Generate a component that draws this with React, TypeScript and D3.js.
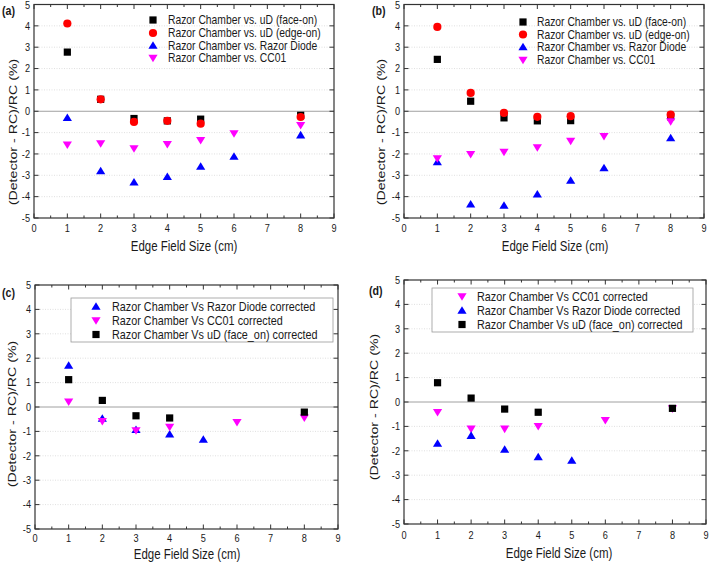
import React from "react";
import * as d3 from "d3";

// ---------- data ----------
const xTicks = [0, 1, 2, 3, 4, 5, 6, 7, 8, 9];
const yTicks = [-5, -4, -3, -2, -1, 0, 1, 2, 3, 4, 5];

// Panel (a)
const aX = [1, 2, 3, 4, 5, 8];
const aFaceOn = [2.77, 0.56, -0.34, -0.45, -0.37, -0.19];
const aEdgeOn = [4.11, 0.56, -0.5, -0.45, -0.58, -0.27];
const aDiodeX = [1, 2, 3, 4, 5, 6, 8];
const aDiode = [-0.31, -2.8, -3.33, -3.07, -2.59, -2.12, -1.12];
const aCC01X = [1, 2, 3, 4, 5, 6, 8];
const aCC01 = [-1.57, -1.51, -1.74, -1.54, -1.36, -1.04, -0.65];

// Panel (b)
const bX = [1, 2, 3, 4, 5, 8];
const bFaceOn = [2.43, 0.47, -0.31, -0.45, -0.44, -0.26];
const bEdgeOn = [3.95, 0.86, -0.08, -0.26, -0.23, -0.16];
const bDiodeX = [1, 2, 3, 4, 5, 6, 8];
const bDiode = [-2.38, -4.36, -4.42, -3.89, -3.25, -2.66, -1.25];
const bCC01X = [1, 2, 3, 4, 5, 6, 8];
const bCC01 = [-2.21, -2.01, -1.91, -1.7, -1.39, -1.17, -0.48];

// Panel (c)
const cDiodeX = [1, 2, 3, 4, 5];
const cDiode = [1.7, -0.47, -0.93, -1.12, -1.33];
const cCC01X = [1, 2, 3, 4, 6, 8];
const cCC01 = [0.22, -0.58, -0.96, -0.82, -0.62, -0.44];
const cFaceX = [1, 2, 3, 4, 8];
const cFace = [1.12, 0.27, -0.36, -0.45, -0.21];

// Panel (d)
const dCC01X = [1, 2, 3, 4, 6, 8];
const dCC01 = [-0.42, -1.1, -1.1, -0.99, -0.75, -0.27];
const dDiodeX = [1, 2, 3, 4, 5];
const dDiode = [-1.7, -1.38, -1.95, -2.26, -2.4];
const dFaceX = [1, 2, 3, 4, 8];
const dFace = [0.79, 0.16, -0.29, -0.42, -0.26];

const FONT = "'Liberation Sans', Arial, sans-serif";
const SX = 0.82; // horizontal squeeze of the text glyphs in the reference

type Shape = "square" | "circle" | "up" | "down";
interface Series { name: string; xs: number[]; ys: number[]; shape: Shape; color: string; }

const T = ({ x, y, fs, anchor = "start", rot = false, bold = false, children }:
  { x: number; y: number; fs: number; anchor?: string; rot?: boolean; bold?: boolean; children: React.ReactNode }) => (
  <g transform={`translate(${x},${y}) scale(${SX},1)${rot ? " rotate(-90)" : ""}`}>
    <text fontSize={fs} textAnchor={anchor as any} dominantBaseline="central" fontWeight={bold ? "bold" : "normal"} fill="#1a1a1a">{children}</text>
  </g>
);

const Marker = ({ shape, color, cx, cy }: { shape: Shape; color: string; cx: number; cy: number }) => {
  if (shape === "square") return <rect x={cx - 3.6} y={cy - 3.6} width={7.2} height={7.2} fill={color} />;
  if (shape === "circle") return <circle cx={cx} cy={cy} r={4.1} fill={color} />;
  const h = 4.3, w = 4.6;
  if (shape === "up") return <path d={`M${cx},${cy - h}L${cx + w},${cy + h * 0.75}L${cx - w},${cy + h * 0.75}Z`} fill={color} />;
  return <path d={`M${cx},${cy + h}L${cx + w},${cy - h * 0.75}L${cx - w},${cy - h * 0.75}Z`} fill={color} />;
};

interface PanelProps {
  label: string; labelX: number; labelY: number;
  x0: number; x1: number; yTop: number; yBot: number;
  series: Series[];
  legend: { box?: [number, number, number, number]; mx: number; tx: number; rows: number[]; fs: number };
  yTitle: [number, number]; xTitle: [number, number]; xTickY: number;
}

const Panel = (p: PanelProps) => {
  const x = d3.scaleLinear().domain([0, 9]).range([p.x0, p.x1]);
  const y = d3.scaleLinear().domain([-5, 5]).range([p.yBot, p.yTop]);
  const minorX = d3.range(0.5, 9, 1);
  const axisColor = "#333";
  return (
    <g fontFamily={FONT}>
      {/* grid */}
      {yTicks.filter(t => t !== 0 && t !== 5 && t !== -5).map(t => (
        <line key={"g" + t} x1={p.x0} x2={p.x1} y1={y(t)} y2={y(t)} stroke="#d8d8d8" strokeWidth={0.8} strokeDasharray="1,1.5" />
      ))}
      <line x1={p.x0} x2={p.x1} y1={y(0)} y2={y(0)} stroke="#a0a0a0" strokeWidth={1} />
      {/* frame */}
      <rect x={p.x0} y={p.yTop} width={p.x1 - p.x0} height={p.yBot - p.yTop} fill="none" stroke={axisColor} strokeWidth={1.2} />
      {/* x ticks */}
      {xTicks.map(t => (
        <g key={"xt" + t}>
          <line x1={x(t)} x2={x(t)} y1={p.yBot} y2={p.yBot - 4.5} stroke={axisColor} />
          <line x1={x(t)} x2={x(t)} y1={p.yTop} y2={p.yTop + 4.5} stroke={axisColor} />
          <T x={x(t)} y={p.xTickY} fs={11.2} anchor="middle">{t}</T>
        </g>
      ))}
      {minorX.map(t => (
        <g key={"xm" + t}>
          <line x1={x(t)} x2={x(t)} y1={p.yBot} y2={p.yBot - 2.5} stroke={axisColor} />
          <line x1={x(t)} x2={x(t)} y1={p.yTop} y2={p.yTop + 2.5} stroke={axisColor} />
        </g>
      ))}
      {/* y ticks */}
      {yTicks.map(t => (
        <g key={"yt" + t}>
          <line x1={p.x0} x2={p.x0 + 4.5} y1={y(t)} y2={y(t)} stroke={axisColor} />
          <line x1={p.x1} x2={p.x1 - 4.5} y1={y(t)} y2={y(t)} stroke={axisColor} />
          <T x={p.x0 - 4} y={Math.max(y(t), 5.5)} fs={11.2} anchor="end">{t}</T>
        </g>
      ))}
      {/* titles */}
      <T x={p.xTitle[0]} y={p.xTitle[1]} fs={14} anchor="middle">Edge Field Size (cm)</T>
      <T x={p.yTitle[0]} y={p.yTitle[1]} fs={14.2} anchor="middle" rot>(Detector - RC)/RC (%)</T>
      <T x={p.labelX} y={p.labelY} fs={13} bold>{p.label}</T>
      {/* points */}
      {p.series.map(s => (
        <g key={s.name}>
          {s.xs.map((xv, i) => <Marker key={i} shape={s.shape} color={s.color} cx={x(xv)} cy={y(s.ys[i])} />)}
        </g>
      ))}
      {/* legend */}
      {p.legend.box && (
        <rect x={p.legend.box[0]} y={p.legend.box[1]} width={p.legend.box[2]} height={p.legend.box[3]} fill="white" stroke="#999" strokeWidth={0.8} />
      )}
      {p.series.map((s, i) => (
        <g key={"l" + s.name}>
          <Marker shape={s.shape} color={s.color} cx={p.legend.mx} cy={p.legend.rows[i]} />
          <T x={p.legend.tx} y={p.legend.rows[i]} fs={p.legend.fs}>{s.name}</T>
        </g>
      ))}
    </g>
  );
};

export default function App() {
  const aSeries: Series[] = [
    { name: "Razor Chamber vs. uD (face-on)", xs: aX, ys: aFaceOn, shape: "square", color: "#000000" },
    { name: "Razor Chamber vs. uD (edge-on)", xs: aX, ys: aEdgeOn, shape: "circle", color: "#ff0000" },
    { name: "Razor Chamber vs. Razor Diode", xs: aDiodeX, ys: aDiode, shape: "up", color: "#0000ff" },
    { name: "Razor Chamber vs. CC01", xs: aCC01X, ys: aCC01, shape: "down", color: "#ff00ff" },
  ];
  const bSeries: Series[] = [
    { name: "Razor Chamber vs. uD (face-on)", xs: bX, ys: bFaceOn, shape: "square", color: "#000000" },
    { name: "Razor Chamber vs. uD (edge-on)", xs: bX, ys: bEdgeOn, shape: "circle", color: "#ff0000" },
    { name: "Razor Chamber vs. Razor Diode", xs: bDiodeX, ys: bDiode, shape: "up", color: "#0000ff" },
    { name: "Razor Chamber vs. CC01", xs: bCC01X, ys: bCC01, shape: "down", color: "#ff00ff" },
  ];
  const cSeries: Series[] = [
    { name: "Razor Chamber Vs Razor Diode corrected", xs: cDiodeX, ys: cDiode, shape: "up", color: "#0000ff" },
    { name: "Razor Chamber Vs CC01 corrected", xs: cCC01X, ys: cCC01, shape: "down", color: "#ff00ff" },
    { name: "Razor Chamber Vs uD (face_on) corrected", xs: cFaceX, ys: cFace, shape: "square", color: "#000000" },
  ];
  const dSeries: Series[] = [
    { name: "Razor Chamber Vs CC01 corrected", xs: dCC01X, ys: dCC01, shape: "down", color: "#ff00ff" },
    { name: "Razor Chamber Vs Razor Diode corrected", xs: dDiodeX, ys: dDiode, shape: "up", color: "#0000ff" },
    { name: "Razor Chamber Vs uD (face_on) corrected", xs: dFaceX, ys: dFace, shape: "square", color: "#000000" },
  ];
  return (
    <svg width={709} height={568} style={{ position: "absolute", left: 0, top: 0, background: "white" }}>
      <rect width={709} height={568} fill="white" />
      <Panel label="(a)" labelX={2} labelY={11} x0={34} x1={334} yTop={4.5} yBot={218}
        series={aSeries} legend={{ mx: 153, tx: 168, rows: [20, 33, 45.5, 58], fs: 12.6 }}
        yTitle={[13, 132]} xTitle={[184, 246]} xTickY={228} />
      <Panel label="(b)" labelX={372} labelY={11} x0={404} x1={704} yTop={4.5} yBot={218}
        series={bSeries} legend={{ mx: 523, tx: 537, rows: [22, 34.5, 47, 60], fs: 12.6 }}
        yTitle={[381, 132]} xTitle={[555, 246]} xTickY={228} />
      <Panel label="(c)" labelX={2} labelY={293} x0={35} x1={338} yTop={285} yBot={529}
        series={cSeries} legend={{ box: [71, 298, 262, 44], mx: 96, tx: 112, rows: [306.5, 320.5, 334.5], fs: 13.2 }}
        yTitle={[12, 414]} xTitle={[187, 554]} xTickY={538.5} />
      <Panel label="(d)" labelX={369} labelY={291} x0={404} x1={706} yTop={280} yBot={524}
        series={dSeries} legend={{ box: [432, 288, 261, 44], mx: 462, tx: 477, rows: [296.5, 310.5, 324.5], fs: 13.2 }}
        yTitle={[374, 407]} xTitle={[559, 553]} xTickY={535} />
    </svg>
  );
}
